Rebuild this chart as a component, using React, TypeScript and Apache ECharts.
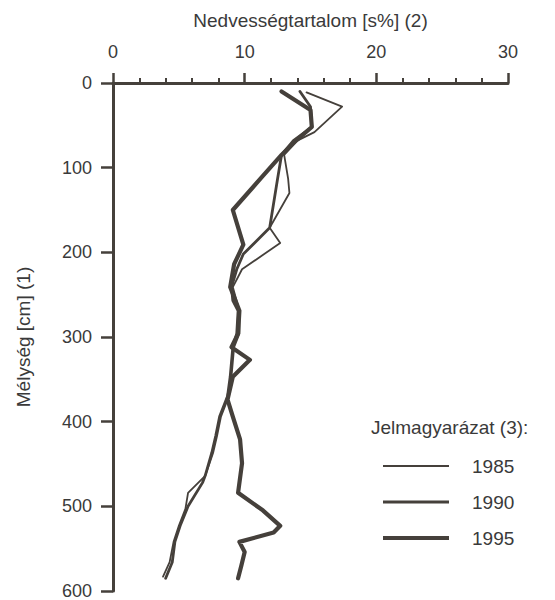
import React, { useEffect, useRef } from "react";
import * as echarts from "echarts";

const xTicks = [0, 10, 20, 30];
const yTicks = [0, 100, 200, 300, 400, 500, 600];
const seriesNames = ["1985", "1990", "1995"];

const depth1985 = [11, 28, 58, 68, 85, 113, 130, 171, 189, 220, 241, 269, 296, 312, 347, 370, 394, 417, 437, 464, 484, 503, 523, 542, 566, 583];
const moist1985 = [14.7, 17.4, 15.3, 14.0, 13.0, 13.3, 13.4, 11.9, 12.7, 9.8, 9.1, 9.6, 9.6, 9.2, 9.0, 8.8, 8.2, 7.9, 7.6, 7.0, 5.7, 5.5, 5.0, 4.6, 4.3, 3.8];

const depth1990 = [10, 28, 52, 68, 85, 113, 171, 202, 220, 241, 257, 269, 296, 312, 347, 370, 394, 417, 437, 464, 472, 500, 523, 542, 566, 585];
const moist1990 = [14.2, 15.0, 15.1, 13.7, 12.8, 12.5, 11.9, 9.9, 9.4, 9.0, 9.1, 9.5, 9.4, 9.1, 8.9, 8.7, 8.1, 7.8, 7.5, 7.0, 6.8, 5.7, 5.1, 4.7, 4.5, 4.0];

const depth1995 = [10, 32, 52, 68, 85, 113, 150, 191, 214, 241, 269, 296, 312, 327, 347, 374, 394, 421, 449, 484, 505, 523, 531, 542, 554, 570, 585];
const moist1995 = [12.8, 15.0, 15.1, 13.9, 12.8, 11.2, 9.1, 9.9, 9.2, 8.9, 9.6, 9.5, 9.0, 10.4, 9.1, 8.7, 9.1, 9.65, 9.8, 9.5, 11.4, 12.7, 12.2, 9.6, 10.0, 9.75, 9.5];

const lineWidths = [1.8, 2.8, 4.2];
const INK = "#45403b";
const TEXT = "#3a3a3a";
const FONT = "Liberation Sans, Arial, sans-serif";

function pairs(xs: number[], ys: number[]) {
  return xs.map((x, i) => [x, ys[i]]);
}

export default function App() {
  const ref = useRef<HTMLDivElement>(null);
  useEffect(() => {
    if (!ref.current) return;
    const chart = echarts.init(ref.current, undefined, { renderer: "svg" });
    const data = [
      pairs(moist1985, depth1985),
      pairs(moist1990, depth1990),
      pairs(moist1995, depth1995),
    ];
    const legendTop = 466;
    const legendStep = 36;
    const legendGraphics: any[] = [
      {
        type: "text",
        x: 371,
        y: 427,
        style: { text: "Jelmagyarázat (3):", fill: TEXT, font: `19px ${FONT}`, verticalAlign: "middle" },
      },
    ];
    seriesNames.forEach((n, i) => {
      const y = legendTop + i * legendStep;
      legendGraphics.push({
        type: "line",
        shape: { x1: 383, y1: y, x2: 449, y2: y },
        style: { stroke: INK, lineWidth: lineWidths[i] },
      });
      legendGraphics.push({
        type: "text",
        x: 472,
        y: y,
        style: { text: n, fill: TEXT, font: `19px ${FONT}`, verticalAlign: "middle" },
      });
    });

    chart.setOption({
      animation: false,
      backgroundColor: "#ffffff",
      textStyle: { fontFamily: FONT },
      grid: { left: 113, right: 47, top: 83, bottom: 9, outerBoundsMode: "none" },
      xAxis: {
        type: "value",
        position: "top",
        min: 0,
        max: 30,
        interval: 10,
        name: "Nedvességtartalom [s%] (2)",
        nameLocation: "middle",
        nameGap: 53,
        nameTextStyle: { fontSize: 19, color: TEXT, fontFamily: FONT },
        axisLine: { show: true, lineStyle: { color: INK, width: 3 } },
        axisTick: { show: true, length: 10, lineStyle: { color: INK, width: 2.5 } },
        minorTick: { show: true, splitNumber: 5, length: 5, lineStyle: { color: INK, width: 2 } },
        axisLabel: { fontSize: 18, color: TEXT, margin: 22, fontFamily: FONT },
        splitLine: { show: false },
        minorSplitLine: { show: false },
      },
      yAxis: {
        type: "value",
        inverse: true,
        min: 0,
        max: 600,
        interval: 100,
        name: "Mélység [cm] (1)",
        nameLocation: "middle",
        nameGap: 80,
        nameRotate: 90,
        nameTextStyle: { fontSize: 19, color: TEXT, fontFamily: FONT },
        axisLine: { show: true, lineStyle: { color: INK, width: 3 } },
        axisTick: { show: true, length: 12, lineStyle: { color: INK, width: 2.5 } },
        axisLabel: { fontSize: 18, color: TEXT, margin: 21, fontFamily: FONT },
        splitLine: { show: false },
      },
      series: seriesNames.map((n, i) => ({
        name: n,
        type: "line",
        data: data[i],
        symbol: "none",
        clip: false,
        lineStyle: { color: INK, width: lineWidths[i], join: "round", cap: "round" },
        z: 3 - i,
      })),
      graphic: legendGraphics,
    });
    return () => chart.dispose();
  }, []);
  return (
    <div
      ref={ref}
      style={{ position: "absolute", left: 0, top: 0, width: 555, height: 600 }}
    />
  );
}
